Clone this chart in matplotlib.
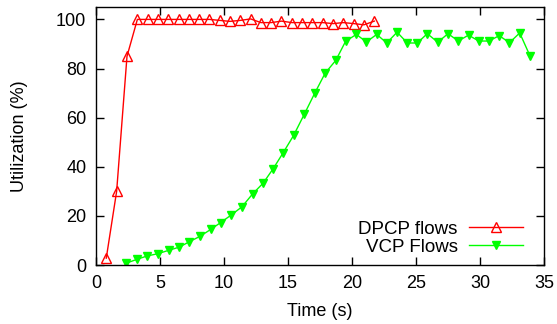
import numpy as np
import matplotlib as mpl
mpl.use('Agg')
from matplotlib import pyplot as plt

plt.rcParams['font.family'] = ['Liberation Sans', 'DejaVu Sans']

# DPCP flows
dpcp_t = [0.80, 1.61, 2.42, 3.23, 4.03, 4.84, 5.64, 6.45, 7.25, 8.06, 8.86,
          9.66, 10.47, 11.27, 12.08, 12.88, 13.69, 14.49, 15.30, 16.10, 16.91,
          17.71, 18.52, 19.32, 20.13, 20.93, 21.74]
dpcp_u = [2.8, 30.0, 85.0, 100.0, 100.0, 100.0, 100.0, 100.0, 100.0, 100.0, 100.0,
          99.6, 99.2, 99.6, 100.2, 98.7, 98.7, 99.3, 98.7, 98.7, 98.7,
          98.7, 98.3, 98.7, 98.3, 97.8, 99.3]

# VCP flows
vcp_t = [2.34, 3.18, 4.00, 4.82, 5.68, 6.51, 7.29, 8.13, 8.96, 9.74,
         10.57, 11.40, 12.24, 13.05, 13.85, 14.63, 15.44, 16.27, 17.11, 17.91,
         18.73, 19.50, 20.34, 21.12, 21.93, 22.71, 23.52, 24.32, 25.10, 25.88,
         26.70, 27.50, 28.30, 29.10, 29.90, 30.70, 31.50, 32.30, 33.10, 33.90]
vcp_u = [0.7, 2.3, 3.7, 4.6, 6.0, 7.3, 9.5, 11.7, 14.5, 17.3,
         20.4, 23.7, 29.0, 33.3, 39.3, 45.8, 52.8, 61.4, 70.2, 78.2,
         83.3, 91.1, 93.9, 90.8, 93.9, 90.4, 94.8, 90.4, 90.4, 94.2,
         90.7, 94.2, 91.2, 93.6, 91.2, 91.2, 93.4, 90.5, 94.5, 85.2]

fig = plt.figure(figsize=(5.57, 3.24), dpi=100)
ax = fig.add_axes([0.1724, 0.182, 0.8043, 0.796])

ax.plot(dpcp_t, dpcp_u, color='#ff0000', lw=1, marker='^', markersize=7,
        markerfacecolor='none', markeredgecolor='#ff0000', markeredgewidth=1,
        label='DPCP flows')
ax.plot(vcp_t, vcp_u, color='#00ff00', lw=1, marker='v', markersize=6,
        markerfacecolor='#00ff00', markeredgecolor='#00ff00',
        label='VCP Flows')

ax.set_xlim(0, 35)
ax.set_ylim(0, 105)
ax.set_xticks(np.arange(0, 36, 5))
ax.set_yticks(np.arange(0, 101, 20))
ax.tick_params(direction='in', length=6, width=1, top=True, right=True,
               labelsize=13, pad=7)
for s in ax.spines.values():
    s.set_linewidth(1)

ax.set_xlabel('Time (s)', fontsize=13, labelpad=8)
ax.set_ylabel('Utilization (%)', fontsize=13, labelpad=20)

ax.legend(loc='lower right', bbox_to_anchor=(0.975, 0.0), frameon=False,
          markerfirst=False, fontsize=13.5, handlelength=2.9, handletextpad=0.6,
          labelspacing=0.05, borderpad=0, numpoints=1)

fig.savefig('out.png', dpi=100)
